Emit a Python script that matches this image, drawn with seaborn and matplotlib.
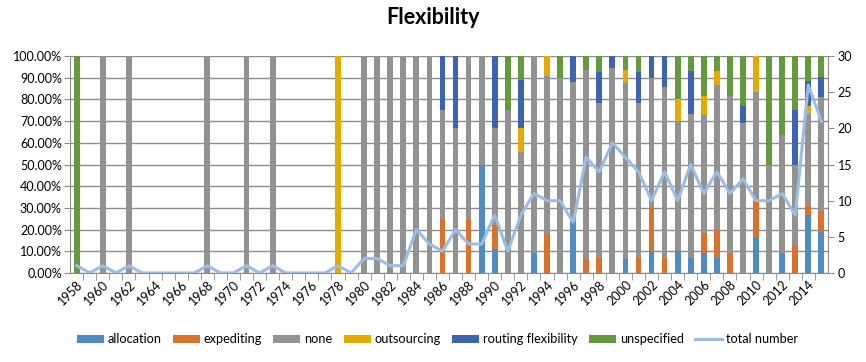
import numpy as np
import pandas as pd
import matplotlib
matplotlib.use("Agg")
import matplotlib.pyplot as plt
import matplotlib.ticker as ticker
from matplotlib.patches import Patch
from matplotlib.lines import Line2D
import seaborn as sns

# 1. Data (share of each flexibility type per year, in %) and total number per year
years = list(range(1958, 2016))

allocation = [0, 0, 0, 0, 0, 0, 0, 0, 0, 0, 0, 0, 0, 0, 0, 0, 0, 0, 0, 0,
              0, 0, 0, 0, 0, 0, 0, 0, 0, 0, 0, 50, 11.1, 0, 0, 9.1, 0, 0, 23.5, 0,
              0, 0, 6.25, 0, 10, 0, 10, 6.7, 9.1, 6.7, 0, 0, 16.7, 0, 9.1, 0, 26.9, 19]
expediting = [0, 0, 0, 0, 0, 0, 0, 0, 0, 0, 0, 0, 0, 0, 0, 0, 0, 0, 0, 0,
              0, 0, 0, 0, 0, 0, 0, 0, 25, 0, 25, 0, 11.1, 0, 0, 0, 18.2, 0, 0, 6.25,
              7.1, 0, 0, 7.1, 20, 7.1, 0, 0, 9.1, 13.3, 9.1, 0, 16.7, 0, 0, 12.5, 3.8, 9.5]
none = [0, 0, 100, 0, 100, 0, 0, 0, 0, 0, 100, 0, 0, 100, 0, 100, 0, 0, 0, 0,
        0, 0, 100, 100, 100, 100, 100, 100, 50, 66.7, 75, 50, 44.4, 75, 55.6, 90.9, 72.7, 90, 64.7, 87.5,
        71.4, 94.4, 81.25, 71.4, 60, 78.6, 60, 66.7, 54.5, 66.7, 72.7, 69.2, 50, 50, 54.5, 37.5, 42.3, 52.4]
outsourcing = [0, 0, 0, 0, 0, 0, 0, 0, 0, 0, 0, 0, 0, 0, 0, 0, 0, 0, 0, 0,
               100, 0, 0, 0, 0, 0, 0, 0, 0, 0, 0, 0, 0, 0, 11.1, 0, 9.1, 0, 0, 0,
               0, 0, 6.25, 0, 0, 0, 10, 0, 9.1, 6.7, 0, 0, 16.7, 0, 0, 0, 3.8, 0]
routing = [0, 0, 0, 0, 0, 0, 0, 0, 0, 0, 0, 0, 0, 0, 0, 0, 0, 0, 0, 0,
           0, 0, 0, 0, 0, 0, 0, 0, 25, 33.3, 0, 0, 33.3, 0, 22.2, 0, 0, 0, 11.8, 0,
           14.3, 5.6, 0, 14.3, 10, 14.3, 0, 20, 0, 0, 0, 7.7, 0, 0, 0, 25, 11.5, 9.5]
unspecified = [100, 0, 0, 0, 0, 0, 0, 0, 0, 0, 0, 0, 0, 0, 0, 0, 0, 0, 0, 0,
               0, 0, 0, 0, 0, 0, 0, 0, 0, 0, 0, 0, 0, 25, 11.1, 0, 0, 10, 0, 6.25,
               7.1, 0, 6.25, 7.1, 0, 0, 20, 6.7, 18.2, 6.7, 18.2, 23.1, 0, 50, 36.4, 25, 11.5, 9.5]
total_number = [1, 0, 1, 0, 1, 0, 0, 0, 0, 0, 1, 0, 0, 1, 0, 1, 0, 0, 0, 0,
                1, 0, 2, 2, 1, 1, 6, 4, 3, 6, 4, 4, 8, 3, 8, 11, 10, 10, 7, 16,
                14, 18, 16, 14, 10, 14, 10, 15, 11, 14, 11, 13, 10, 10, 11, 8, 26, 21]

categories = ['allocation', 'expediting', 'none', 'outsourcing', 'routing flexibility', 'unspecified']
colors = ['#4E8CC2', '#D9722D', '#929292', '#E5AB00', '#3D64AF', '#65993D']
line_color = '#9BBCE4'

df = pd.DataFrame({'year': [str(y) for y in years],
                   'allocation': allocation, 'expediting': expediting, 'none': none,
                   'outsourcing': outsourcing, 'routing flexibility': routing,
                   'unspecified': unspecified})
# normalise each year to 100% stacked shares
shares = df[categories].div(df[categories].sum(axis=1).replace(0, 1), axis=0)
cum = shares.cumsum(axis=1)

# 2. Plot
plt.rcParams['font.family'] = ['Lato', 'DejaVu Sans']
fig = plt.figure(figsize=(8.66, 3.62), dpi=100)
ax = fig.add_axes([0.081, 0.246, 0.875, 0.599])

# stacked bars: draw cumulative heights from top category down
for cat, col in reversed(list(zip(categories, colors))):
    sns.barplot(x=df['year'], y=cum[cat], color=col, saturation=1, width=0.44,
                order=df['year'], ax=ax, zorder=2)

ax.set_xlim(-0.5, len(years) - 0.5)
ax.set_ylim(0, 1)
ax.set_xlabel('')
ax.set_ylabel('')
ax.yaxis.set_major_locator(ticker.MultipleLocator(0.1))
ax.yaxis.set_major_formatter(ticker.PercentFormatter(1.0, decimals=2))
ax.grid(axis='y', color='#8C8C8C', linewidth=1, zorder=0)
ax.set_axisbelow(True)

pos = np.arange(len(years))
ax.set_xticks(pos[::2])
ax.set_xticklabels([str(y) for y in years[::2]], rotation=45, ha='right',
                   rotation_mode='anchor', fontsize=9)
ax.set_xticks(pos[:-1] + 0.5, minor=True)
ax.tick_params(axis='x', which='major', length=0, pad=4)
ax.tick_params(axis='x', which='minor', length=5, color='#8C8C8C')
ax.tick_params(axis='y', length=4, color='#8C8C8C', labelsize=9, pad=2)

for s in ['top', 'right']:
    ax.spines[s].set_visible(False)
for s in ['left', 'bottom']:
    ax.spines[s].set_color('#8C8C8C')

# total number on secondary axis
ax2 = ax.twinx()
sns.lineplot(x=pos, y=total_number, color=line_color, linewidth=2.2, ax=ax2, zorder=3)
ax2.set_ylim(0, 30)
ax2.yaxis.set_major_locator(ticker.MultipleLocator(5))
ax2.tick_params(axis='y', length=4, color='#8C8C8C', labelsize=9, pad=3)
for s in ['top', 'left', 'bottom']:
    ax2.spines[s].set_visible(False)
ax2.spines['right'].set_color('#8C8C8C')
ax2.set_ylabel('')
ax.set_xlim(-0.5, len(years) - 0.5)

fig.suptitle('Flexibility', fontsize=15.5, fontweight='bold', y=0.98)

handles = [Patch(facecolor=c, label=l) for l, c in zip(categories, colors)]
handles.append(Line2D([0], [0], color=line_color, linewidth=2.2, label='total number'))
fig.legend(handles=handles, loc='center', bbox_to_anchor=(0.505, 0.063), ncol=7,
           frameon=False, fontsize=9.2, handlelength=2.1, handleheight=0.55,
           columnspacing=0.9, handletextpad=0.3)

fig.savefig('out.png', dpi=100)
